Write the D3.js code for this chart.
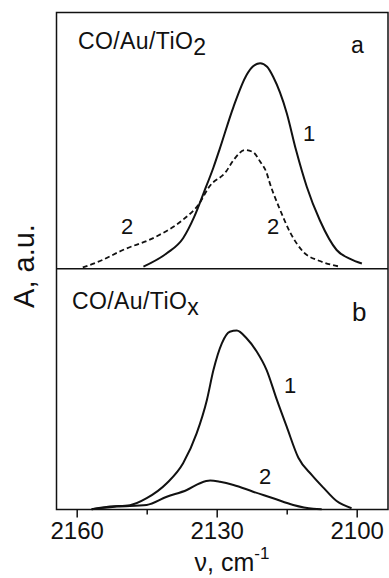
<!DOCTYPE html>
<html>
<head>
<meta charset="utf-8">
<script src="https://cdn.jsdelivr.net/npm/d3@7"></script>
<style>
  body { margin: 0; background: #fff; }
  text { font-family: "Liberation Sans", Arial, sans-serif; fill: #111; }
</style>
</head>
<body>
<div id="chart"></div>
<script>
// wavenumber (cm-1) and absorbance (a.u.)
const aWave1 = [2145.7, 2140.7, 2137.2, 2134.8, 2132.7, 2130.7, 2129.4, 2126.4, 2123.6, 2122.2, 2120.7, 2119.2, 2117.9, 2115.0, 2113.0, 2110.7, 2107.9, 2104.3, 2101.4, 2098.9];
const aAbs1  = [0.008, 0.060, 0.119, 0.203, 0.300, 0.395, 0.465, 0.632, 0.756, 0.790, 0.802, 0.788, 0.749, 0.608, 0.463, 0.320, 0.189, 0.073, 0.038, 0.020];
const aWave2 = [2158.7, 2155.0, 2150.1, 2143.0, 2137.3, 2133.7, 2131.6, 2128.0, 2126.4, 2123.9, 2122.2, 2120.7, 2119.3, 2118.6, 2116.4, 2114.3, 2111.4, 2107.9, 2103.6];
const aAbs2  = [0.005, 0.030, 0.073, 0.125, 0.190, 0.255, 0.320, 0.379, 0.424, 0.463, 0.455, 0.418, 0.374, 0.333, 0.229, 0.143, 0.065, 0.030, 0.008];

const bWave1 = [2156.8, 2152.9, 2148.6, 2145.0, 2140.7, 2137.2, 2134.3, 2132.1, 2130.7, 2128.9, 2127.2, 2125.7, 2123.6, 2121.4, 2119.3, 2117.1, 2115.0, 2112.5, 2109.6, 2107.2, 2104.3, 2101.1];
const bAbs1  = [0.001, 0.012, 0.018, 0.047, 0.109, 0.192, 0.316, 0.455, 0.579, 0.690, 0.738, 0.743, 0.711, 0.655, 0.579, 0.455, 0.344, 0.215, 0.143, 0.092, 0.035, 0.005];
const bWave2 = [2156.8, 2151.4, 2145.0, 2140.7, 2136.4, 2133.6, 2131.4, 2129.3, 2126.4, 2122.2, 2117.9, 2113.6, 2109.3, 2107.5];
const bAbs2  = [0.001, 0.012, 0.019, 0.053, 0.081, 0.109, 0.120, 0.115, 0.102, 0.074, 0.047, 0.019, 0.003, 0.001];

const majorTicks = [2160, 2130, 2100];
const minorTicks = [2145, 2115];

const width = 389, height = 578;
const frameL = 56.5, frameR = 388, frameT = 12.5, frameM = 268.7, frameB = 509.5;

const svg = d3.select("#chart").append("svg")
  .attr("width", width)
  .attr("height", height);

const x = d3.scaleLinear().domain([2160, 2100]).range([76.7, 356.7]);
const yA = d3.scaleLinear().domain([0, 1]).range([frameM, frameT]);
const yB = d3.scaleLinear().domain([0, 1]).range([frameB, frameM]);

const zip = (w, a) => w.map((v, i) => [v, a[i]]);

function line(yScale) {
  return d3.line()
    .x(d => x(d[0]))
    .y(d => yScale(d[1]))
    .curve(d3.curveMonotoneX);
}

// curves
svg.append("path").datum(zip(aWave1, aAbs1))
  .attr("d", line(yA)).attr("fill", "none").attr("stroke", "#111").attr("stroke-width", 2);
svg.append("path").datum(zip(aWave2, aAbs2))
  .attr("d", line(yA)).attr("fill", "none").attr("stroke", "#111").attr("stroke-width", 1.8)
  .attr("stroke-dasharray", "5,3");
svg.append("path").datum(zip(bWave1, bAbs1))
  .attr("d", line(yB)).attr("fill", "none").attr("stroke", "#111").attr("stroke-width", 2);
svg.append("path").datum(zip(bWave2, bAbs2))
  .attr("d", line(yB)).attr("fill", "none").attr("stroke", "#111").attr("stroke-width", 2);

// frame
svg.append("rect")
  .attr("x", frameL).attr("y", frameT)
  .attr("width", frameR - frameL).attr("height", frameB - frameT)
  .attr("fill", "none").attr("stroke", "#111").attr("stroke-width", 1.5);
svg.append("line")
  .attr("x1", frameL).attr("x2", frameR).attr("y1", frameM).attr("y2", frameM)
  .attr("stroke", "#111").attr("stroke-width", 1.5);

// x axis
const axis = svg.append("g")
  .attr("transform", `translate(0,${frameB})`)
  .call(d3.axisBottom(x).tickValues(majorTicks).tickSize(8).tickPadding(4).tickFormat(d3.format("d")));
axis.select(".domain").remove();
axis.selectAll(".tick line").attr("stroke", "#111").attr("stroke-width", 1.5);
axis.selectAll(".tick text")
  .attr("font-size", 24).attr("font-family", "Liberation Sans, Arial, sans-serif")
  .attr("fill", "#111");

const minor = svg.append("g")
  .attr("transform", `translate(0,${frameB})`)
  .call(d3.axisBottom(x).tickValues(minorTicks).tickSize(5).tickFormat(""));
minor.select(".domain").remove();
minor.selectAll(".tick line").attr("stroke", "#111").attr("stroke-width", 1.5);

// axis titles
const xt = svg.append("text")
  .attr("x", 232).attr("y", 571)
  .attr("text-anchor", "middle")
  .attr("font-size", 25);
xt.append("tspan").text("ν, cm");
xt.append("tspan").attr("font-size", 17).attr("dy", -12).text("-1");

svg.append("text")
  .attr("transform", "translate(34,266) rotate(-90)")
  .attr("text-anchor", "middle")
  .attr("font-size", 29)
  .text("A, a.u.");

// panel labels
function sampleLabel(xp, yp, main, sub) {
  const t = svg.append("text").attr("x", xp).attr("y", yp)
    .attr("font-size", 23).attr("letter-spacing", 0.4);
  t.append("tspan").text(main);
  t.append("tspan").attr("dy", 6).attr("font-size", 23).text(sub);
}
sampleLabel(78, 49, "CO/Au/TiO", "2");
sampleLabel(72, 309, "CO/Au/TiO", "x");

svg.append("text").attr("x", 351).attr("y", 53).attr("font-size", 23).text("a");
svg.append("text").attr("x", 352).attr("y", 321).attr("font-size", 26).text("b");

// curve numbers
const num = [
  { t: "1", x: 303, y: 141 },
  { t: "2", x: 121, y: 234 },
  { t: "2", x: 267, y: 234 },
  { t: "1", x: 284, y: 393 },
  { t: "2", x: 259, y: 484 }
];
svg.selectAll(".num").data(num).enter().append("text")
  .attr("class", "num")
  .attr("x", d => d.x).attr("y", d => d.y)
  .attr("font-size", 22)
  .text(d => d.t);
</script>
</body>
</html>
